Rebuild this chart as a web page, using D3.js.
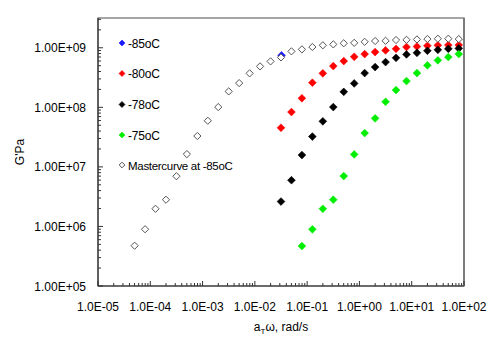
<!DOCTYPE html>
<html>
<head>
<meta charset="utf-8">
<script src="https://cdn.jsdelivr.net/npm/d3@7"></script>
<style>
html,body{margin:0;padding:0;background:#fff;}
svg{display:block;}
text{font-family:"Liberation Sans",Arial,sans-serif;fill:#000;}
</style>
</head>
<body>
<svg id="chart" width="500" height="340"></svg>
<script>
// ---- data (log10 of a_T*omega, G' in Pa) ----
const masterLogX = [-4.3,-4.1,-3.9,-3.7,-3.5,-3.3,-3.1,-2.9,-2.7,-2.5,-2.3,-2.1,-1.9,-1.7,-1.5,-1.3,-1.1,-0.9,-0.7,-0.5,-0.3,-0.1,0.1,0.3,0.5,0.7,0.9,1.1,1.3,1.5,1.7,1.9];
const masterG = [4.75e5,8.98e5,1.98e6,2.81e6,6.97e6,1.64e7,3.30e7,5.95e7,1.01e8,1.85e8,2.55e8,3.72e8,4.87e8,5.91e8,6.90e8,8.71e8,9.40e8,1.03e9,1.10e9,1.14e9,1.19e9,1.21e9,1.26e9,1.30e9,1.31e9,1.35e9,1.36e9,1.38e9,1.40e9,1.42e9,1.42e9,1.40e9];

const m85LogX = [-1.49];
const m85G = [7.45e8];

const m80LogX = [-1.5,-1.3,-1.1,-0.9,-0.7,-0.5,-0.3,-0.1,0.1,0.3,0.5,0.7,0.9,1.1,1.3,1.5,1.7,1.9];
const m80G = [4.54e7,8.34e7,1.42e8,2.59e8,3.72e8,4.93e8,5.98e8,7.06e8,7.84e8,8.47e8,9.04e8,9.62e8,1.03e9,1.05e9,1.08e9,1.10e9,1.11e9,1.11e9];

const m78LogX = [-1.5,-1.3,-1.1,-0.9,-0.7,-0.5,-0.3,-0.1,0.1,0.3,0.5,0.7,0.9,1.1,1.3,1.5,1.7,1.9];
const m78G = [2.62e6,5.97e6,1.58e7,3.23e7,5.82e7,1.01e8,1.82e8,2.52e8,3.76e8,4.74e8,5.75e8,6.79e8,7.74e8,8.24e8,8.91e8,9.25e8,9.62e8,9.77e8];

const m75LogX = [-1.1,-0.9,-0.7,-0.5,-0.3,-0.1,0.1,0.3,0.5,0.7,0.9,1.1,1.3,1.5,1.7,1.9];
const m75G = [4.69e5,8.95e5,1.98e6,2.81e6,7.02e6,1.62e7,3.70e7,6.53e7,1.24e8,1.95e8,2.76e8,3.76e8,5.07e8,6.15e8,6.98e8,7.84e8];

const legendLabels = ["-85oC","-80oC","-78oC","-75oC","Mastercurve at -85oC"];
const xTickValues = [1e-5,1e-4,1e-3,1e-2,1e-1,1e0,1e1,1e2];
const xTickLabels = ["1.0E-05","1.0E-04","1.0E-03","1.0E-02","1.0E-01","1.0E+00","1.0E+01","1.0E+02"];
const yTickValues = [1e5,1e6,1e7,1e8,1e9];
const yTickLabels = ["1.00E+05","1.00E+06","1.00E+07","1.00E+08","1.00E+09"];

// ---- layout ----
const svg = d3.select("#chart");
const L = 98, R = 464, T = 18, B = 286;
const x = d3.scaleLog().domain([1e-5, 1e2]).range([L, R]);
const y = d3.scaleLog().domain([1e5, Math.pow(10, 9.5)]).range([B, T]);

const diamond = {
  draw(ctx, size) {
    const r = Math.sqrt(size / 2);
    ctx.moveTo(0, -r); ctx.lineTo(r, 0); ctx.lineTo(0, r); ctx.lineTo(-r, 0); ctx.closePath();
  }
};
const sym = (s) => d3.symbol().type(diamond).size(s)();

// frame
svg.append("rect").attr("x", L).attr("y", T).attr("width", R - L).attr("height", B - T)
  .attr("fill", "none").attr("stroke", "#6a6a6a").attr("stroke-width", 1.2);
svg.append("line").attr("x1", L).attr("x2", L).attr("y1", T).attr("y2", B).attr("stroke", "#333").attr("stroke-width", 1.2);
svg.append("line").attr("x1", L).attr("x2", R).attr("y1", B).attr("y2", B).attr("stroke", "#333").attr("stroke-width", 1.2);
svg.append("line").attr("x1", R).attr("x2", R).attr("y1", T).attr("y2", B).attr("stroke", "#777").attr("stroke-width", 1.8);

// minor + major ticks
const xMinor = [];
for (let e = -5; e < 2; e++) for (let k = 2; k <= 9; k++) xMinor.push(k * Math.pow(10, e));
const yMinor = [];
for (let e = 5; e <= 9; e++) for (let k = 2; k <= 9; k++) { const v = k * Math.pow(10, e); if (v <= Math.pow(10, 9.5)) yMinor.push(v); }

const ticksG = svg.append("g").attr("stroke", "#333").attr("stroke-width", 1);
ticksG.selectAll(".xm").data(xMinor).enter().append("line")
  .attr("x1", d => x(d)).attr("x2", d => x(d)).attr("y1", B).attr("y2", B - 3);
ticksG.selectAll(".xM").data(xTickValues).enter().append("line")
  .attr("x1", d => x(d)).attr("x2", d => x(d)).attr("y1", B).attr("y2", B - 5);
ticksG.selectAll(".ym").data(yMinor).enter().append("line")
  .attr("x1", L).attr("x2", L + 3).attr("y1", d => y(d)).attr("y2", d => y(d));
ticksG.selectAll(".yM").data(yTickValues).enter().append("line")
  .attr("x1", L).attr("x2", L + 5).attr("y1", d => y(d)).attr("y2", d => y(d));

// tick labels
svg.selectAll(".xl").data(xTickValues).enter().append("text")
  .attr("x", d => x(d)).attr("y", 311).attr("text-anchor", "middle")
  .attr("font-size", 12).text((d, i) => xTickLabels[i]);
svg.selectAll(".yl").data(yTickValues).enter().append("text")
  .attr("x", 86).attr("y", d => y(d) + 4.5).attr("text-anchor", "end")
  .attr("font-size", 12).text((d, i) => yTickLabels[i]);

// axis titles
const xt = svg.append("text").attr("x", 281).attr("y", 331).attr("text-anchor", "middle").attr("font-size", 12);
xt.append("tspan").text("a");
xt.append("tspan").attr("font-size", 8).attr("dy", 3).text("T");
xt.append("tspan").attr("dy", -3).text("ω, rad/s");
svg.append("text").attr("transform", "translate(24,152) rotate(-90)").attr("text-anchor", "middle")
  .attr("font-size", 12).text("G'Pa");

// series
const series = [
  {lx: m85LogX, g: m85G, fill: "#1a1aff", stroke: "#1a1aff"},
  {lx: m80LogX, g: m80G, fill: "#ff0000", stroke: "#ff0000"},
  {lx: m78LogX, g: m78G, fill: "#000000", stroke: "#000000"},
  {lx: m75LogX, g: m75G, fill: "#00ee00", stroke: "#00ee00"},
  {lx: masterLogX, g: masterG, fill: "#ffffff", stroke: "#555555"}
];
series.forEach((s, si) => {
  const pts = s.lx.map((v, i) => [Math.pow(10, v), s.g[i]]);
  svg.append("g").selectAll("path").data(pts).enter().append("path")
    .attr("d", sym(si === 4 ? 26 : 30))
    .attr("transform", d => `translate(${x(d[0])},${y(d[1])})`)
    .attr("fill", s.fill).attr("stroke", s.stroke).attr("stroke-width", si === 4 ? 1 : 0.6);
});

// legend
const legY = [43, 73.5, 104.5, 135, 165];
legendLabels.forEach((lab, i) => {
  const s = series[i];
  svg.append("path").attr("d", sym(i === 4 ? 16 : 18))
    .attr("transform", `translate(122,${legY[i]})`)
    .attr("fill", s.fill).attr("stroke", s.stroke).attr("stroke-width", i === 4 ? 1 : 0.6);
  svg.append("text").attr("x", 128).attr("y", legY[i] + 4.5).attr("font-size", i === 4 ? 11.5 : 12)
    .attr("letter-spacing", i === 4 ? -0.3 : -0.2).text(lab);
});
</script>
</body>
</html>
